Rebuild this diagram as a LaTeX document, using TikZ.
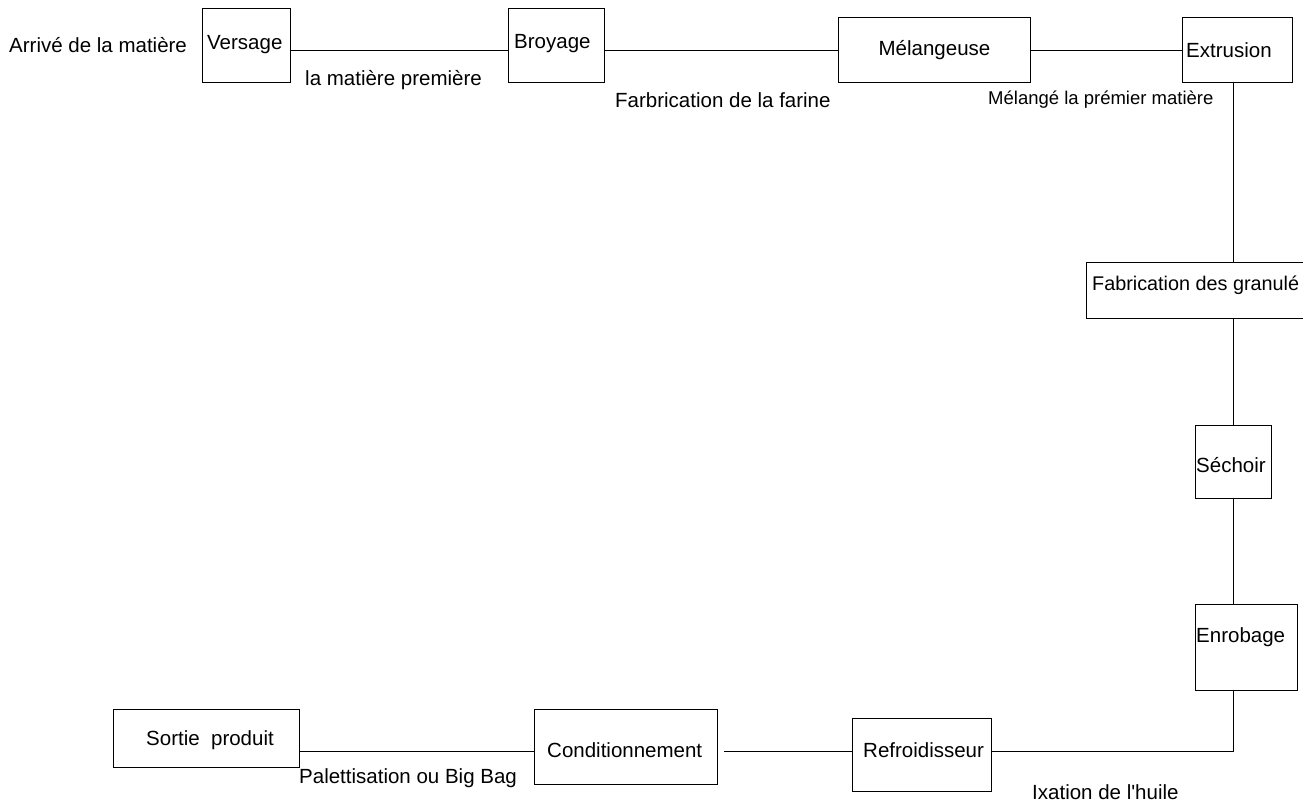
\documentclass[tikz,border=0pt]{standalone}
\usepackage{fontspec}
\setmainfont{Liberation Sans}
\begin{document}
\begin{tikzpicture}[x=1pt,y=-1pt,
  box/.style={draw, line width=1pt, inner sep=0pt, anchor=north west},
  lbl/.style={anchor=west, inner sep=0pt, font=\fontsize{20.5}{24}\selectfont},
  small/.style={anchor=west, inner sep=0pt, font=\fontsize{18.5}{22}\selectfont},
  wire/.style={line width=1pt}]
\useasboundingbox (0,0) rectangle (1303,805);
\clip (0,0) rectangle (1303,805);
% boxes
\node[box, minimum width=88pt,  minimum height=74pt] (versage) at (202,8) {};
\node[box, minimum width=96pt,  minimum height=74pt] (broyage) at (508,8) {};
\node[box, minimum width=192pt, minimum height=65pt] (mel)     at (838,17) {};
\node[box, minimum width=110pt, minimum height=65pt] (extr)    at (1182,17) {};
\node[box, minimum width=224pt, minimum height=56pt] (gran)    at (1086,262) {};
\node[box, minimum width=76pt,  minimum height=73pt] (sech)    at (1195,425) {};
\node[box, minimum width=102pt, minimum height=86pt] (enrob)   at (1195,604) {};
\node[box, minimum width=139pt, minimum height=73pt] (refr)    at (852,718) {};
\node[box, minimum width=183pt, minimum height=75pt] (cond)    at (534,709) {};
\node[box, minimum width=186pt, minimum height=58pt] (sortie)  at (113,709) {};
% texts
\node[lbl] (tarr)  at (9,45)    {Arrivé de la matière};
\node[lbl] (tvers) at (207,45)  {Versage};
\node[lbl] (tmp)   at (305,80)  {la matière première};
\node[lbl] (tbroy) at (514,44)  {Broyage};
\node[lbl] (tfar)  at (615,100) {Farbrication de la farine};
\node[lbl, anchor=center] (tmel) at (mel.center) {Mélangeuse};
\node[lbl] (text)  at (1186,50) {Extrusion};
\node[small] (tmelg) at (988,100) {Mélangé la prémier matière};
\node[lbl, font=\fontsize{19.8}{24}\selectfont] (tgran) at (1092,285) {Fabrication des granulé};
\node[lbl] (tsech) at (1196,465) {Séchoir};
\node[lbl] (tenr)  at (1196,637) {Enrobage};
\node[lbl] (trefr) at (863,750) {Refroidisseur};
\node[lbl] (tcond) at (547,750) {Conditionnement};
\node[lbl] (tsort) at (146,740) {Sortie\ \ produit};
\node[lbl] (tpal)  at (299,778) {Palettisation ou Big Bag};
\node[lbl] (tixa)  at (1032,792) {Ixation de l\textquotesingle huile};
% connectors
\coordinate (top) at (0,51);
\coordinate (vx) at (1233,0);
\coordinate (corner) at (1233,751);
\coordinate (free) at (724,751);
\draw[wire] (versage.east |- top) -- (broyage.west |- top);
\draw[wire] (broyage.east |- top) -- (mel.west |- top);
\draw[wire] (mel.east |- top) -- (extr.west |- top);
\draw[wire] (extr.south -| vx) -- (gran.north -| vx);
\draw[wire] (gran.south -| vx) -- (sech.north -| vx);
\draw[wire] (sech.south -| vx) -- (enrob.north -| vx);
\draw[wire] (enrob.south -| vx) -- (corner) -- (refr.east |- corner);
\draw[wire] (refr.west |- corner) -- (free);
\draw[wire] (cond.west |- corner) -- (sortie.east |- corner);
\end{tikzpicture}
\end{document}
